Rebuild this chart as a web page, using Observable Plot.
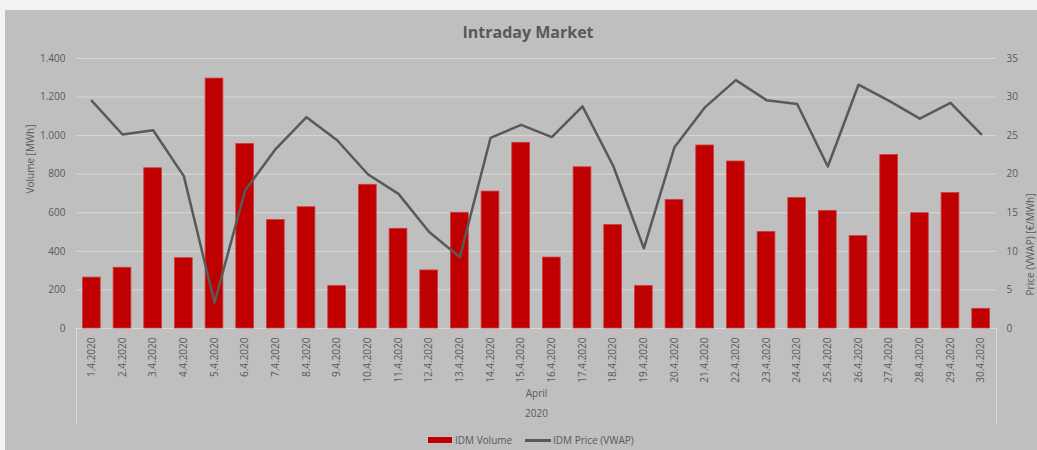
<!DOCTYPE html>
<html>
<head>
<meta charset="utf-8">
<script src="https://cdn.jsdelivr.net/npm/d3@7"></script>
<script src="https://cdn.jsdelivr.net/npm/@observablehq/plot@0.6"></script>
<style>
  body { margin: 0; background: #f2f2f2; font-family: "Open Sans", sans-serif; }
  #chart { position: absolute; left: 5px; top: 10px; width: 1032px; height: 440px; background: #bfbfbf; overflow: hidden; }
  #title { position: absolute; top: 12px; left: 0; width: 1046px; text-align: center; font-size: 16px; line-height: 20px; font-weight: bold; color: #595959; }
  #plot { position: absolute; left: 0; top: 40px; }
  .lg { position: absolute; font-size: 10px; line-height: 12px; color: #595959; white-space: nowrap; }
</style>
</head>
<body>
<div id="chart">
  <div id="title"></div>
  <div id="plot"></div>
  <div id="legend"></div>
</div>
<script>
const titleText = "Intraday Market";
const days = ["1.4.2020","2.4.2020","3.4.2020","4.4.2020","5.4.2020","6.4.2020","7.4.2020","8.4.2020","9.4.2020","10.4.2020",
  "11.4.2020","12.4.2020","13.4.2020","14.4.2020","15.4.2020","16.4.2020","17.4.2020","18.4.2020","19.4.2020","20.4.2020",
  "21.4.2020","22.4.2020","23.4.2020","24.4.2020","25.4.2020","26.4.2020","27.4.2020","28.4.2020","29.4.2020","30.4.2020"];
const volume = [264, 315, 831, 365, 1296, 957, 563, 629, 221, 745,
  517, 301, 600, 710, 963, 368, 836, 537, 221, 667,
  949, 866, 501, 677, 610, 479, 900, 598, 703, 102];
const price = [29.5, 25.15, 25.7, 19.75, 3.35, 17.9, 23.3, 27.4, 24.4, 20.0,
  17.45, 12.5, 9.25, 24.7, 26.4, 24.8, 28.8, 21.1, 10.4, 23.5,
  28.7, 32.2, 29.6, 29.1, 21.0, 31.6, 29.5, 27.2, 29.25, 25.2];
const volumeTicks = [0, 200, 400, 600, 800, 1000, 1200, 1400];
const priceTicks = [0, 5, 10, 15, 20, 25, 30, 35];
const monthLabel = "April";
const yearLabel = "2020";
const volumeLabel = "Volume [MWh]";
const priceLabel = "Price (VWAP) [€/MWh]";
const seriesNames = ["IDM Volume", "IDM Price (VWAP)"];

const ratio = 1400 / 35;
const fmt = d3.formatLocale({decimal: ",", thousands: ".", grouping: [3], currency: ["", "€"]}).format(",d");
const data = days.map((d, i) => ({day: d, volume: volume[i], price: price[i]}));

document.getElementById("title").textContent = titleText;

const chart = Plot.plot({
  width: 1032,
  height: 375,
  marginTop: 8,
  marginBottom: 97,
  marginLeft: 71,
  marginRight: 41,
  style: {background: "transparent", fontFamily: "Open Sans", fontSize: "10px", color: "#595959", overflow: "visible"},
  x: {domain: days, paddingInner: 0.42, paddingOuter: 0.21, round: false, label: null},
  y: {domain: [0, 1400], label: null},
  marks: [
    Plot.gridY(volumeTicks.filter(v => v > 0), {stroke: "#d9d9d9", strokeOpacity: 1, strokeWidth: 1}),
    Plot.ruleY([0], {stroke: "#d9d9d9", strokeWidth: 1}),
    Plot.frame({anchor: "left", stroke: "#d9d9d9", insetTop: 270, insetBottom: -95}),
    Plot.frame({anchor: "right", stroke: "#d9d9d9", insetTop: 270, insetBottom: -95}),
    Plot.barY(data, {x: "day", y: "volume", fill: "#c00000", stroke: "#cc4040", strokeWidth: 0.8}),
    Plot.lineY(data, {x: "day", y: d => d.price * ratio, stroke: "#595959", strokeWidth: 2.5}),
    Plot.axisY(volumeTicks, {anchor: "left", tickSize: 0, tickPadding: 11, tickFormat: fmt, label: null}),
    Plot.axisY(priceTicks.map(p => p * ratio), {anchor: "right", tickSize: 0, tickPadding: 10, tickFormat: d => d / ratio, label: null}),
    Plot.axisX({tickRotate: -90, tickSize: 0, tickPadding: 9, label: null}),
    Plot.text([volumeLabel], {text: d => d, frameAnchor: "left", dx: -46, rotate: -90, fill: "#595959"}),
    Plot.text([priceLabel], {text: d => d, frameAnchor: "right", dx: 34, rotate: -90, fill: "#595959"}),
    Plot.text([monthLabel], {text: d => d, frameAnchor: "bottom", dy: 68, fill: "#595959"}),
    Plot.text([yearLabel], {text: d => d, frameAnchor: "bottom", dy: 88, fill: "#595959"})
  ]
});
document.getElementById("plot").appendChild(chart);

const legend = document.getElementById("legend");
legend.innerHTML = `
  <div style="position:absolute;left:423px;top:427px;width:24px;height:6px;background:#c00000"></div>
  <div class="lg" style="left:450px;top:424px">${seriesNames[0]}</div>
  <div style="position:absolute;left:520px;top:428.5px;width:26px;height:3px;background:#595959"></div>
  <div class="lg" style="left:548px;top:424px">${seriesNames[1]}</div>`;
</script>
</body>
</html>
